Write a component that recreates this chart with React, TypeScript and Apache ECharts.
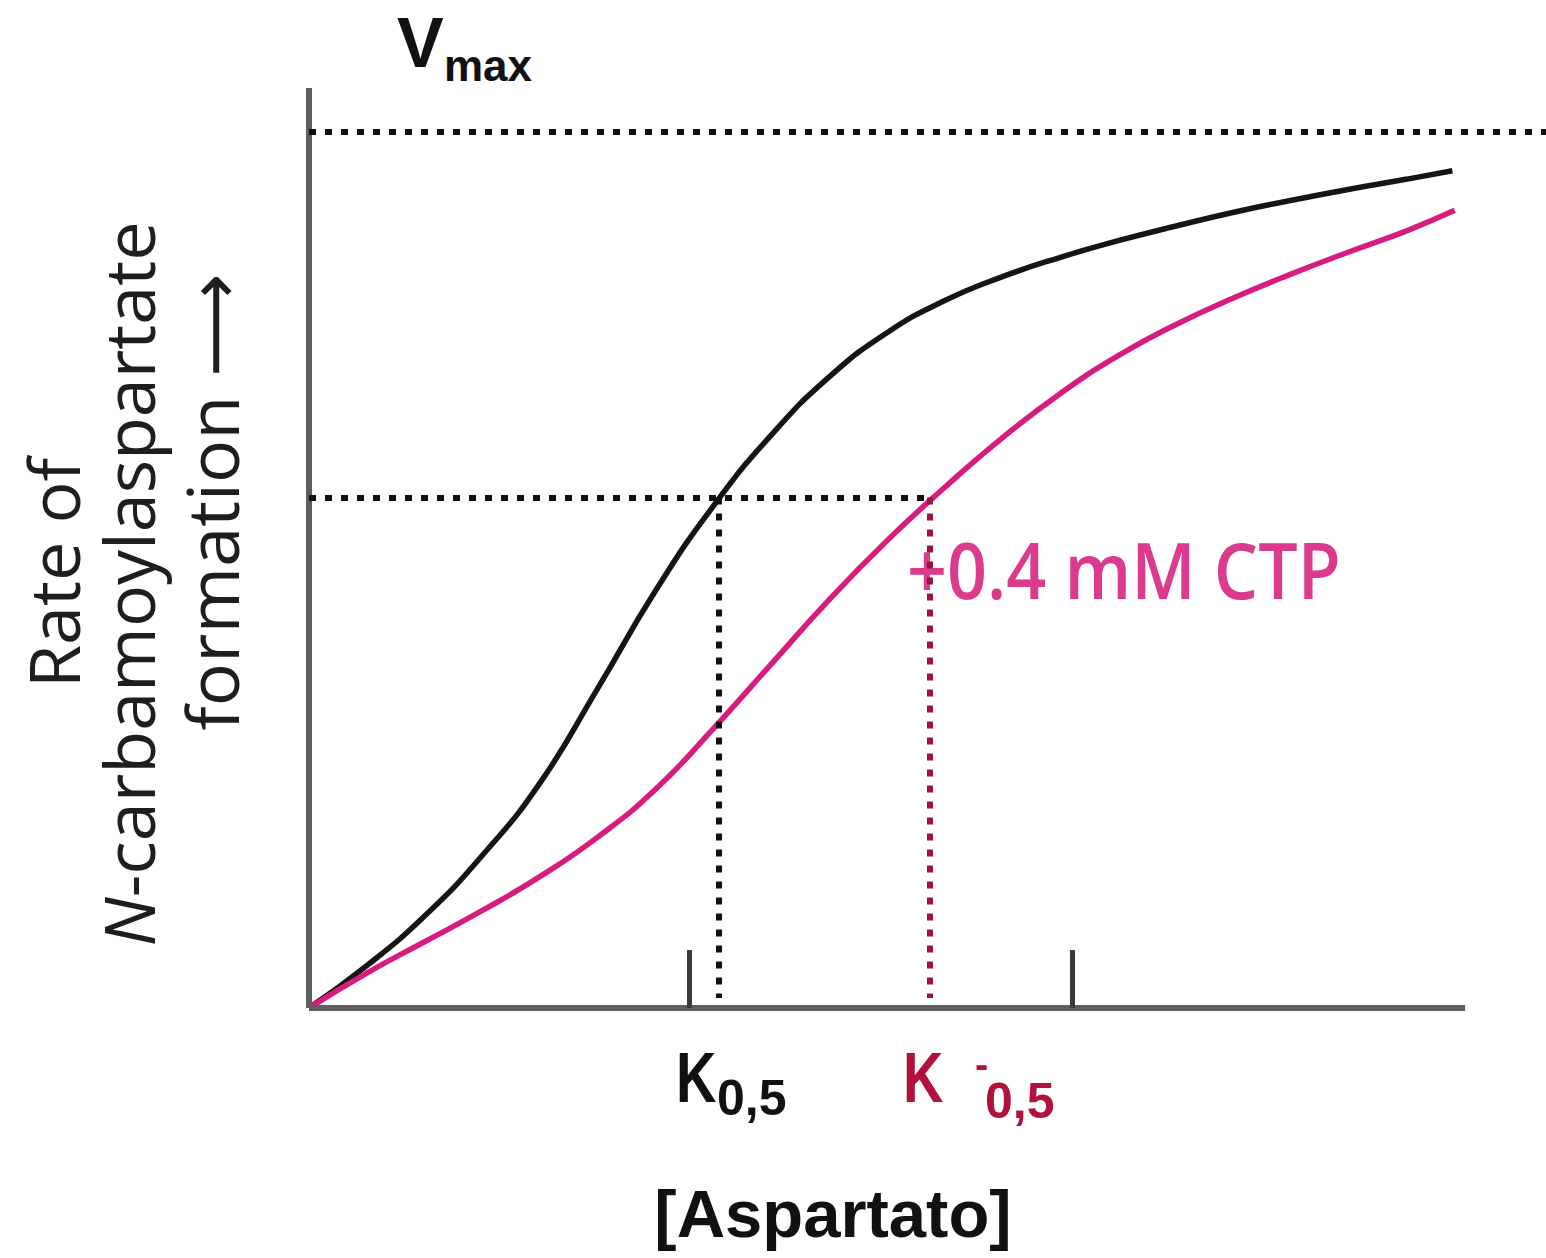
import React, { useEffect, useRef } from 'react';
import * as echarts from 'echarts';

// Axis ranges (arbitrary units)
const xRange = [0, 107];
const yRange = [0, 100];
const xAxisEnd = 100;
const axisTicks = [32.9, 66.0];
const tickTop = 6.3;

// Reference levels
const vmaxLevel = 95.2;
const halfLevel = 55.5;
const k05 = 35.4;
const k05ctp = 53.7;
const guideBottom = 1.1;

// Curves
const controlX = [0, 5, 10, 15, 20, 25, 30, 35, 40, 45, 50, 55, 60, 65, 70, 75, 80, 85, 90, 95, 98.9];
const controlY = [0, 4.6, 10.0, 16.6, 24.5, 34.8, 45.4, 54.6, 62.3, 68.6, 73.4, 76.9, 79.5, 81.6, 83.4, 85.0, 86.5, 87.8, 89.0, 90.1, 91.0];
const ctpX = [0, 5, 10, 15, 20, 25, 30, 35, 40, 45, 50, 55, 60, 65, 70, 75, 80, 85, 90, 95, 99.1];
const ctpY = [0, 3.8, 7.2, 10.6, 14.3, 18.6, 23.8, 30.4, 37.4, 44.4, 50.8, 56.6, 62.0, 66.8, 70.9, 74.3, 77.2, 79.8, 82.2, 84.5, 86.7];

const SANS = "'Open Sans', 'DejaVu Sans', sans-serif";
const ARIAL = "'Liberation Sans', Arial, sans-serif";

export default function App() {
  const ref = useRef<HTMLDivElement>(null);
  useEffect(() => {
    if (!ref.current) return;
    const chart = echarts.init(ref.current, undefined, { renderer: 'svg' });
    const dotted = (color: string) => ({ type: [7, 9] as any, width: 6, color, cap: 'butt' as const });
    const option: any = {
      animation: false,
      backgroundColor: '#ffffff',
      grid: { left: 309, right: 0, top: 88, bottom: 250 },
      xAxis: { type: 'value', min: xRange[0], max: xRange[1], show: false },
      yAxis: { type: 'value', min: yRange[0], max: yRange[1], show: false },
      series: [
        {
          type: 'line',
          data: [],
          z: 1,
          silent: true,
          markLine: {
            silent: true,
            animation: false,
            symbol: ['none', 'none'],
            label: { show: false },
            lineStyle: { color: '#5e5e5e', width: 6, type: 'solid' },
            data: [
              [{ coord: [0, 0] }, { coord: [xAxisEnd, 0] }],
              [{ coord: [0, 0] }, { coord: [0, yRange[1]] }],
              ...axisTicks.map((t) => [
                { coord: [t, 0], lineStyle: { color: '#3a3a3a', width: 5, type: 'solid' } },
                { coord: [t, tickTop] },
              ]),
            ],
          },
        },
        {
          type: 'line',
          data: [],
          z: 2,
          silent: true,
          markLine: {
            silent: true,
            animation: false,
            symbol: ['none', 'none'],
            label: { show: false },
            data: [
              [{ coord: [0, vmaxLevel], lineStyle: dotted('#111111') }, { coord: [xRange[1], vmaxLevel] }],
              [{ coord: [0, halfLevel], lineStyle: dotted('#111111') }, { coord: [k05ctp, halfLevel] }],
              [{ coord: [k05, halfLevel], lineStyle: dotted('#111111') }, { coord: [k05, guideBottom] }],
              [{ coord: [k05ctp, halfLevel], lineStyle: dotted('#951840') }, { coord: [k05ctp, guideBottom] }],
            ],
          },
        },
        {
          name: 'control',
          type: 'line',
          z: 3,
          data: controlX.map((x, i) => [x, controlY[i]]),
          showSymbol: false,
          smooth: 0.5,
          lineStyle: { color: '#151515', width: 5.5 },
        },
        {
          name: '+0.4 mM CTP',
          type: 'line',
          z: 3,
          data: ctpX.map((x, i) => [x, ctpY[i]]),
          showSymbol: false,
          smooth: 0.5,
          lineStyle: { color: '#d81b7e', width: 5.5 },
        },
      ],
      graphic: [
        {
          type: 'text', x: 397, y: 43,
          style: { text: 'V', font: `bold 70px ${ARIAL}`, fill: '#111', textAlign: 'left', textVerticalAlign: 'middle' },
        },
        {
          type: 'text', x: 444, y: 65,
          style: { text: 'max', font: `bold 44px ${ARIAL}`, fill: '#111', textAlign: 'left', textVerticalAlign: 'middle' },
        },
        {
          type: 'text', x: 53, y: 573, rotation: Math.PI / 2,
          style: { text: 'Rate of', font: `400 70px ${SANS}`, fill: '#1e1e1e', textAlign: 'center', textVerticalAlign: 'middle' },
        },
        {
          type: 'text', x: 128, y: 584, rotation: Math.PI / 2,
          style: {
            text: '{i|N}{n|-carbamoylaspartate}',
            font: `400 70px ${SANS}`,
            fill: '#1e1e1e',
            textAlign: 'center',
            textVerticalAlign: 'middle',
            rich: {
              i: { fontStyle: 'italic', fontSize: 70, fontFamily: SANS, fill: '#1e1e1e' },
              n: { fontSize: 70, fontFamily: SANS, fill: '#1e1e1e' },
            },
          },
        },
        {
          type: 'text', x: 211, y: 502, rotation: Math.PI / 2,
          style: { text: 'formation ⟶', font: `400 72px ${SANS}`, fill: '#1e1e1e', textAlign: 'center', textVerticalAlign: 'middle' },
        },
        {
          type: 'text', x: 907, y: 569, scaleY: 1.12,
          style: { text: '+0.4 mM CTP', font: `600 70px ${SANS}`, fill: '#dc3a8c', textAlign: 'left', textVerticalAlign: 'middle' },
        },
        {
          type: 'text', x: 676, y: 1078, scaleY: 1.25,
          style: { text: 'K', font: `bold 56px ${ARIAL}`, fill: '#111', textAlign: 'left', textVerticalAlign: 'middle' },
        },
        {
          type: 'text', x: 717, y: 1098,
          style: { text: '0,5', font: `bold 50px ${ARIAL}`, fill: '#111', textAlign: 'left', textVerticalAlign: 'middle' },
        },
        {
          type: 'text', x: 903, y: 1078, scaleY: 1.25,
          style: { text: 'K', font: `bold 56px ${ARIAL}`, fill: '#b3103c', textAlign: 'left', textVerticalAlign: 'middle' },
        },
        {
          type: 'text', x: 975, y: 1064,
          style: { text: '-', font: `bold 40px ${ARIAL}`, fill: '#b3103c', textAlign: 'left', textVerticalAlign: 'middle' },
        },
        {
          type: 'text', x: 985, y: 1101,
          style: { text: '0,5', font: `bold 50px ${ARIAL}`, fill: '#b3103c', textAlign: 'left', textVerticalAlign: 'middle' },
        },
        {
          type: 'text', x: 833, y: 1213,
          style: { text: '[Aspartato]', font: `bold 67px ${ARIAL}`, fill: '#111', textAlign: 'center', textVerticalAlign: 'middle' },
        },
      ],
    };
    chart.setOption(option);
    return () => chart.dispose();
  }, []);
  return (
    <div
      ref={ref}
      style={{ position: 'absolute', left: 0, top: 0, width: 1546, height: 1258, background: '#fff' }}
    />
  );
}
